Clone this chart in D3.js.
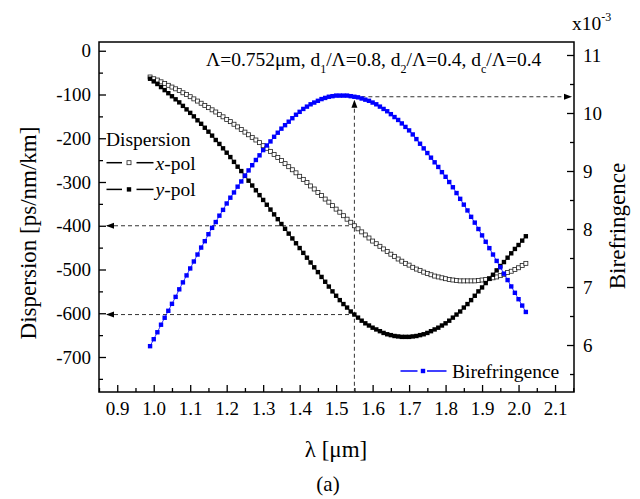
<!DOCTYPE html>
<html><head><meta charset="utf-8">
<script src="https://cdn.jsdelivr.net/npm/d3@7"></script>
<style>
body{margin:0;background:#fff}
svg{display:block}
</style>
</head><body>
<svg id="c" width="640" height="499"></svg>
<script>
// wavelength [um]
const lambda = [0.99,1.00,1.01,1.02,1.03,1.04,1.05,1.06,1.07,1.08,1.09,1.10,1.11,1.12,1.13,1.14,1.15,1.16,1.17,1.18,1.19,
1.20,1.21,1.22,1.23,1.24,1.25,1.26,1.27,1.28,1.29,1.30,1.31,1.32,1.33,1.34,1.35,1.36,1.37,1.38,1.39,
1.40,1.41,1.42,1.43,1.44,1.45,1.46,1.47,1.48,1.49,1.50,1.51,1.52,1.53,1.54,1.55,1.56,1.57,1.58,1.59,
1.60,1.61,1.62,1.63,1.64,1.65,1.66,1.67,1.68,1.69,1.70,1.71,1.72,1.73,1.74,1.75,1.76,1.77,1.78,1.79,
1.80,1.81,1.82,1.83,1.84,1.85,1.86,1.87,1.88,1.89,1.90,1.91,1.92,1.93,1.94,1.95,1.96,1.97,1.98,1.99,
2.00,2.01,2.02];
// Dispersion x-pol [ps/nm/km]
const xPol = [-60,-64,-67,-71,-75,-79,-83,-87,-91,-96,-100,-105,-110,-115,-120,-125,-130,-135,-140,-146,-151,
-157,-162,-168,-174,-180,-186,-192,-198,-204,-210,-217,-223,-230,-237,-244,-251,-258,-265,-272,-279,
-287,-294,-301,-309,-316,-324,-331,-339,-346,-354,-362,-369,-377,-385,-392,-400,-407,-414,-421,-428,
-435,-441,-447,-453,-459,-465,-470,-476,-481,-486,-490,-495,-499,-502,-506,-509,-512,-515,-517,-519,
-521,-523,-524,-525,-526,-526,-526,-526,-526,-525,-524,-523,-521,-519,-517,-514,-511,-507,-504,-500,
-496,-491,-486];
// Dispersion y-pol [ps/nm/km]
const yPol = [-64,-70,-76,-83,-90,-97,-104,-111,-118,-126,-134,-142,-150,-159,-167,-176,-185,-194,-204,-213,-223,
-233,-243,-254,-265,-275,-286,-297,-308,-319,-330,-341,-352,-363,-374,-385,-396,-407,-418,-429,-440,
-451,-462,-473,-484,-495,-506,-517,-528,-539,-550,-560,-570,-579,-587,-596,-603,-610,-617,-623,-628,
-633,-637,-641,-645,-648,-650,-652,-653,-654,-654,-654,-653,-652,-650,-648,-645,-641,-637,-633,-628,
-623,-617,-610,-603,-596,-587,-579,-570,-560,-550,-541,-531,-521,-512,-502,-492,-483,-473,-463,-453,
-444,-434,-424];
// Birefringence [x10^-3]
const biref = [5.98,6.10,6.22,6.35,6.47,6.59,6.71,6.83,6.96,7.08,7.20,7.32,7.44,7.56,7.68,7.79,7.91,8.02,8.12,8.23,8.33,
8.44,8.54,8.63,8.73,8.82,8.92,9.01,9.10,9.19,9.27,9.36,9.44,9.51,9.59,9.66,9.73,9.79,9.85,9.91,9.97,
10.02,10.07,10.11,10.15,10.18,10.21,10.24,10.26,10.28,10.29,10.30,10.30,10.30,10.30,10.29,10.28,10.27,10.25,10.23,10.21,
10.18,10.15,10.11,10.07,10.03,9.98,9.93,9.88,9.82,9.76,9.70,9.63,9.55,9.47,9.39,9.31,9.23,9.15,9.07,8.98,
8.90,8.81,8.72,8.62,8.52,8.42,8.32,8.21,8.11,8.00,7.89,7.78,7.67,7.56,7.45,7.34,7.23,7.12,7.01,6.90,
6.79,6.68,6.57];

const xTicks = [0.9,1.0,1.1,1.2,1.3,1.4,1.5,1.6,1.7,1.8,1.9,2.0,2.1];
const xMinor = [0.85,0.95,1.05,1.15,1.25,1.35,1.45,1.55,1.65,1.75,1.85,1.95,2.05,2.15];
const leftTicks = [0,-100,-200,-300,-400,-500,-600,-700];
const leftMinor = [-50,-150,-250,-350,-450,-550,-650,-750];
const rightTicks = [6,7,8,9,10,11];
const rightMinor = [5.5,6.5,7.5,8.5,9.5,10.5];
const markLambda = 1.55;
const legendSeries = ["x","y"];

const FONT = '"Liberation Serif"';
const svg = d3.select("#c");
const M = {l:99, r:574, t:42, b:392};
const x = d3.scaleLinear().domain([0.85,2.152]).range([M.l, M.r]);
const yL = d3.scaleLinear().domain([-780,20]).range([M.b, M.t]);
const yR = d3.scaleLinear().domain([5.19,11.224]).range([M.b, M.t]);

svg.append("rect").attr("width",640).attr("height",499).attr("fill","#fff");

function styleAxis(g){
  g.select(".domain").remove();
  g.selectAll(".tick line").attr("stroke","#000").attr("stroke-width",1.3);
  g.selectAll(".tick text").style("font-size","19px").style("font-family",FONT).attr("fill","#000");
}
// bottom axis
svg.append("g").attr("transform",`translate(0,${M.b})`)
  .call(d3.axisBottom(x).tickValues(xTicks).tickSize(-7).tickPadding(10).tickFormat(d3.format(".1f")))
  .call(styleAxis);
svg.append("g").attr("transform",`translate(0,${M.b})`)
  .call(d3.axisBottom(x).tickValues(xMinor).tickSize(-4).tickFormat(""))
  .call(styleAxis);
// left axis
svg.append("g").attr("transform",`translate(${M.l},0)`)
  .call(d3.axisLeft(yL).tickValues(leftTicks).tickSize(-7).tickPadding(8).tickFormat(d=>String(d)))
  .call(styleAxis);
svg.append("g").attr("transform",`translate(${M.l},0)`)
  .call(d3.axisLeft(yL).tickValues(leftMinor).tickSize(-4).tickFormat(""))
  .call(styleAxis);
// right axis
svg.append("g").attr("transform",`translate(${M.r},0)`)
  .call(d3.axisRight(yR).tickValues(rightTicks).tickSize(-7).tickPadding(9).tickFormat(d3.format("d")))
  .call(styleAxis);
svg.append("g").attr("transform",`translate(${M.r},0)`)
  .call(d3.axisRight(yR).tickValues(rightMinor).tickSize(-4).tickFormat(""))
  .call(styleAxis);

// frame
svg.append("rect").attr("x",M.l).attr("y",M.t).attr("width",M.r-M.l).attr("height",M.b-M.t)
  .attr("fill","none").attr("stroke","#000").attr("stroke-width",1.5);

// guide dashed lines
const iM = lambda.findIndex(v=>Math.abs(v-markLambda)<1e-6);
const gx = x(markLambda);
const guide = svg.append("g").attr("stroke","#333").attr("stroke-width",1).attr("stroke-dasharray","4,3").attr("fill","none");
guide.append("line").attr("x1",M.l+8).attr("x2",gx).attr("y1",yL(xPol[iM])).attr("y2",yL(xPol[iM]));
guide.append("line").attr("x1",M.l+8).attr("x2",gx).attr("y1",yL(yPol[iM])).attr("y2",yL(yPol[iM]));
guide.append("line").attr("x1",gx).attr("x2",M.r-3).attr("y1",yR(biref[iM])).attr("y2",yR(biref[iM]));
guide.append("line").attr("x1",gx).attr("x2",gx).attr("y1",yR(biref[iM])+5).attr("y2",M.b);
const arr = svg.append("g").attr("fill","#000");
function arrowLeft(tx,ty){arr.append("path").attr("d",`M${tx},${ty}L${tx+8},${ty-3}L${tx+8},${ty+3}Z`);}
function arrowRight(tx,ty){arr.append("path").attr("d",`M${tx},${ty}L${tx-8},${ty-3}L${tx-8},${ty+3}Z`);}
function arrowUp(tx,ty){arr.append("path").attr("d",`M${tx},${ty}L${tx-3},${ty+8}L${tx+3},${ty+8}Z`);}
arrowLeft(M.l+7, yL(xPol[iM]));
arrowLeft(M.l+7, yL(yPol[iM]));
arrowRight(M.r-2, yR(biref[iM]));
arrowUp(gx, yR(biref[iM])+3);

// series
const lineL = vals => d3.line().x((d,i)=>x(lambda[i])).y(d=>yL(d))(vals);
const lineR = vals => d3.line().x((d,i)=>x(lambda[i])).y(d=>yR(d))(vals);

svg.append("path").attr("d",lineL(xPol)).attr("fill","none").attr("stroke","#000").attr("stroke-width",0.8);
svg.append("g").selectAll("rect").data(xPol).join("rect")
  .attr("x",(d,i)=>x(lambda[i])-2).attr("y",d=>yL(d)-2).attr("width",4).attr("height",4)
  .attr("fill","#fff").attr("stroke","#222").attr("stroke-width",0.8);

svg.append("path").attr("d",lineL(yPol)).attr("fill","none").attr("stroke","#000").attr("stroke-width",0.8);
svg.append("g").selectAll("rect").data(yPol).join("rect")
  .attr("x",(d,i)=>x(lambda[i])-2.2).attr("y",d=>yL(d)-2.2).attr("width",4.4).attr("height",4.4)
  .attr("fill","#000");

svg.append("path").attr("d",lineR(biref)).attr("fill","none").attr("stroke","#0000ff").attr("stroke-width",0.8);
svg.append("g").selectAll("rect").data(biref).join("rect")
  .attr("x",(d,i)=>x(lambda[i])-2.2).attr("y",d=>yR(d)-2.2).attr("width",4.4).attr("height",4.4)
  .attr("fill","#0000ff");

// legend (dispersion)
svg.append("text").attr("x",106).attr("y",146).style("font-size","19.5px").text("Dispersion");
legendSeries.forEach((s,k)=>{
  const ly = 162.7 + k*26.7;
  const g = svg.append("g");
  g.append("line").attr("x1",106.5).attr("x2",122).attr("y1",ly).attr("y2",ly).attr("stroke","#000").attr("stroke-width",1.5);
  g.append("line").attr("x1",136.5).attr("x2",153.5).attr("y1",ly).attr("y2",ly).attr("stroke","#000").attr("stroke-width",1.5);
  if(s==="x") g.append("rect").attr("x",127).attr("y",ly-2).attr("width",4).attr("height",4).attr("fill","#fff").attr("stroke","#222").attr("stroke-width",0.8);
  else g.append("rect").attr("x",126.8).attr("y",ly-2.2).attr("width",4.4).attr("height",4.4).attr("fill","#000");
  const t = g.append("text").attr("x",155.5).attr("y",ly+7).style("font-size","19.5px");
  t.append("tspan").style("font-style","italic").text(s);
  t.append("tspan").text("-pol");
});
// legend (birefringence)
{
  const ly = 371;
  const g = svg.append("g");
  g.append("line").attr("x1",400.5).attr("x2",417.5).attr("y1",ly).attr("y2",ly).attr("stroke","#0000ff").attr("stroke-width",1.5);
  g.append("line").attr("x1",427).attr("x2",446.5).attr("y1",ly).attr("y2",ly).attr("stroke","#0000ff").attr("stroke-width",1.5);
  g.append("rect").attr("x",420.8).attr("y",ly-2.2).attr("width",4.4).attr("height",4.4).attr("fill","#0000ff");
  g.append("text").attr("x",452).attr("y",ly+6.5).style("font-size","19.5px").text("Birefringence");
}

// annotation
{
  const t = svg.append("text").attr("x",206).attr("y",66).style("font-size","19.5px");
  t.append("tspan").text("\u039B=0.752\u03BCm, d");
  t.append("tspan").style("font-size","12px").attr("dy",7).text("1");
  t.append("tspan").attr("dy",-7).text("/\u039B=0.8, d");
  t.append("tspan").style("font-size","12px").attr("dy",7).text("2");
  t.append("tspan").attr("dy",-7).text("/\u039B=0.4, d");
  t.append("tspan").style("font-size","12px").attr("dy",7).text("c");
  t.append("tspan").attr("dy",-7).text("/\u039B=0.4");
}
// right scale multiplier
{
  const t = svg.append("text").attr("x",572).attr("y",30).style("font-size","19.5px");
  t.append("tspan").text("x10");
  t.append("tspan").style("font-size","12px").attr("dy",-9).text("-3");
}
// axis titles
svg.append("text").attr("transform","translate(36,233) rotate(-90)").attr("text-anchor","middle")
  .style("font-size","23px").text("Dispersion [ps/nm/km]");
svg.append("text").attr("transform","translate(625,226) rotate(-90)").attr("text-anchor","middle")
  .style("font-size","23px").text("Birefringence");
svg.append("text").attr("x",336).attr("y",457).attr("text-anchor","middle").style("font-size","23px").text("\u03BB [\u03BCm]");
svg.append("text").attr("x",328).attr("y",491).attr("text-anchor","middle").style("font-size","21px").text("(a)");

svg.selectAll("text").style("font-family",FONT).attr("fill","#000");
</script>
</body></html>
